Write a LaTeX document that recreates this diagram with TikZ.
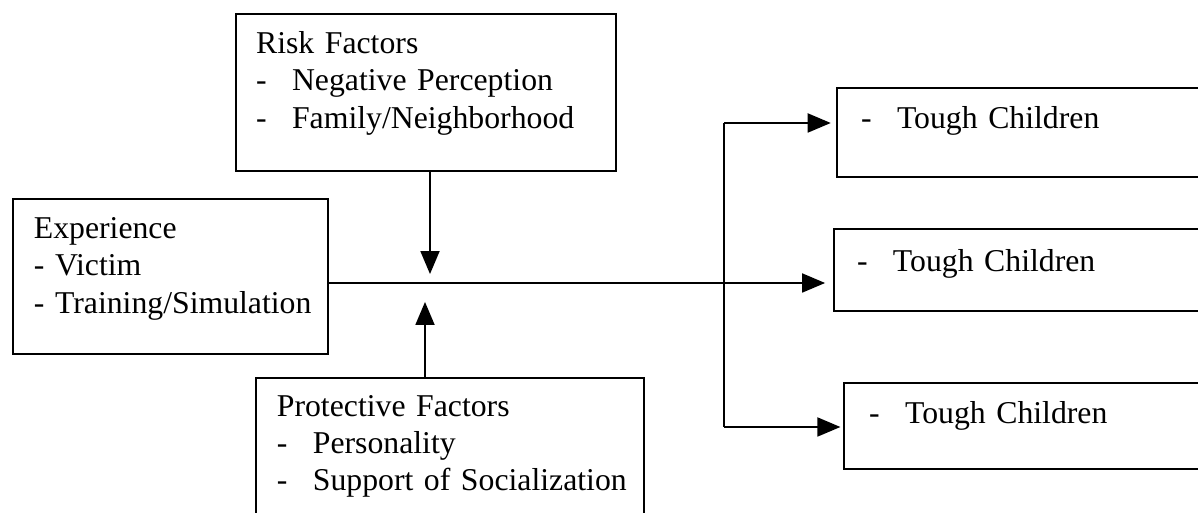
\documentclass[tikz,border=0pt]{standalone}
\usepackage{fontspec}
\setmainfont{Liberation Serif}
\usetikzlibrary{arrows}

\newcommand{\dashitem}[1]{\mbox{\makebox[13.6pt][l]{-}#1}}

\begin{document}
\begin{tikzpicture}[x=0.378pt,y=-0.378pt,
  factorbox/.style={draw,line width=0.75pt,anchor=north west,inner ysep=0pt,
    align=left,font=\fontsize{12}{14}\selectfont},
  flow/.style={line width=1pt,-triangle 45}]
  \useasboundingbox (0,0) rectangle (1198,513);
  \clip (0,0) rectangle (1198,513);

  % factor boxes
  \node[factorbox,text width=128.5pt,inner xsep=7.6pt,text height=15.1pt,text depth=44.2pt]
    (risk) at (235,13) {\mbox{Risk Factors}\\\dashitem{Negative Perception}\\\dashitem{Family/Neighborhood}};
  \node[factorbox,text width=103.2pt,inner xsep=7.9pt,text height=15.1pt,text depth=43.5pt]
    (exp) at (12,198) {\mbox{Experience}\\\mbox{- Victim}\\\mbox{- Training/Simulation}};
  \node[factorbox,text width=130.8pt,inner xsep=7.9pt,text height=14.4pt,text depth=46.1pt]
    (prot) at (255,377) {\mbox{Protective Factors}\\\dashitem{Personality}\\\dashitem{Support of Socialization}};

  % outcome boxes
  \node[factorbox,text width=133pt,inner xsep=9.1pt,text height=15.5pt,text depth=18.1pt]
    (tough1) at (836,87) {\dashitem{Tough Children}};
  \node[factorbox,text width=133pt,inner xsep=8.7pt,text height=15.9pt,text depth=15.1pt]
    (tough2) at (833,228) {\dashitem{Tough Children}};
  \node[factorbox,text width=133pt,inner xsep=9.5pt,text height=15.5pt,text depth=17pt]
    (tough3) at (843,382) {\dashitem{Tough Children}};

  \coordinate (riskTip) at (430,274);
  \coordinate (protTip) at (425,302);
  \coordinate (split) at (724,283);
  \coordinate (upTurn) at (724,123);
  \coordinate (downTurn) at (724,427);

  \draw[flow] (risk.south -| riskTip) -- (riskTip);
  \draw[flow] (prot.north -| protTip) -- (protTip);
  \draw[flow,shorten >=3pt] (exp.east |- split) -- (tough2.west |- split);

  \draw[line width=1pt] (upTurn) -- (downTurn);
  \draw[flow,shorten >=2pt] (upTurn) -- (tough1.west |- upTurn);
  \draw[flow,shorten >=1pt] (downTurn) -- (tough3.west |- downTurn);
\end{tikzpicture}
\end{document}
